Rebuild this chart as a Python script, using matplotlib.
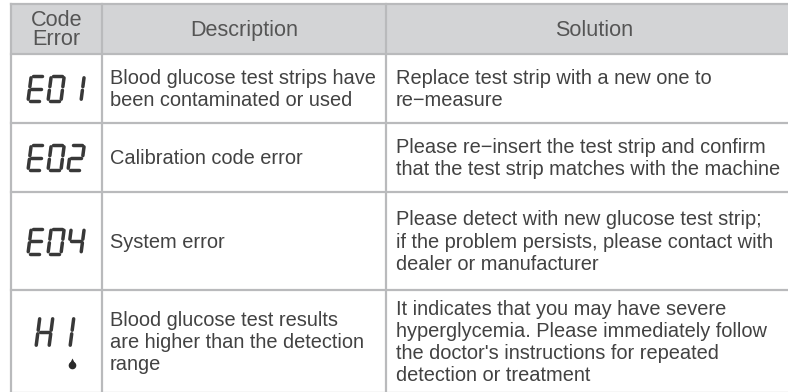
import matplotlib
matplotlib.use('Agg')
from matplotlib import pyplot as plt

plt.rcParams['font.family'] = ['Liberation Sans', 'DejaVu Sans']

# table content
headers = ['Code\nError', 'Description', 'Solution']
codes = ['E01', 'E02', 'E04', 'HI']
descriptions = [
    'Blood glucose test strips have\nbeen contaminated or used',
    'Calibration code error',
    'System error',
    'Blood glucose test results\nare higher than the detection\nrange',
]
solutions = [
    'Replace test strip with a new one to\nre\u2212measure',
    'Please re\u2212insert the test strip and confirm\nthat the test strip matches with the machine',
    'Please detect with new glucose test strip;\nif the problem persists, please contact with\ndealer or manufacturer',
    "It indicates that you may have severe\nhyperglycemia. Please immediately follow\nthe doctor's instructions for repeated\ndetection or treatment",
]

# layout (pixels)
col_edges = [11, 102, 386, 792]
row_edges = [4, 54, 123, 192, 290, 393]
grid_color = '#b9babc'
head_fill = '#d3d4d6'
text_color = '#424242'

# seven segment map
SEGS = {
    'E': 'adefg', '0': 'abcdef', '1': 'bc', '2': 'abdeg',
    '4': 'bcfg', 'H': 'bcefg', 'I': 'bc',
}


def draw_lcd(ax, text, x0, ybot, h, w=13, pitch=20, slant=0.13, gap=1.8):
    '''draw a seven segment style string, ybot is bottom of glyph'''
    ends = {
        'a': ((0, h), (w, h)), 'b': ((w, h), (w, h / 2)),
        'c': ((w, h / 2), (w, 0)), 'd': ((0, 0), (w, 0)),
        'e': ((0, h / 2), (0, 0)), 'f': ((0, h), (0, h / 2)),
        'g': ((0, h / 2), (w, h / 2)),
    }
    for i, ch in enumerate(text):
        ox = x0 + i * pitch
        for s in SEGS[ch]:
            (u1, v1), (u2, v2) = ends[s]
            du, dv = u2 - u1, v2 - v1
            ln = (du ** 2 + dv ** 2) ** 0.5
            u1, v1 = u1 + gap * du / ln, v1 + gap * dv / ln
            u2, v2 = u2 - gap * du / ln, v2 - gap * dv / ln
            xs = [ox + u1 + slant * v1, ox + u2 + slant * v2]
            ys = [ybot - v1, ybot - v2]
            ax.plot(xs, ys, color='#383838', lw=2.5, solid_capstyle='round')


fig = plt.figure(figsize=(7.88, 3.92), dpi=100)
ax = fig.add_axes([0, 0, 1, 1])
ax.set_xlim(0, 788)
ax.set_ylim(392, 0)
ax.axis('off')

# header background
ax.fill_between([col_edges[0], col_edges[-1]], row_edges[0], row_edges[1],
                color=head_fill, lw=0)

# grid
for y in row_edges:
    ax.plot([col_edges[0], col_edges[-1]], [y, y], color=grid_color, lw=1.6)
for x in col_edges:
    ax.plot([x, x], [row_edges[0], row_edges[-1]], color=grid_color, lw=1.6)

# header text
for j, h in enumerate(headers):
    cx = (col_edges[j] + col_edges[j + 1]) / 2
    if j == 2:
        cx = 594
    cy = (row_edges[0] + row_edges[1]) / 2
    ax.text(cx, cy + 1, h, ha='center', va='center', fontsize=15.6,
            color='#555555', linespacing=0.82)

# body
lcd_h = [25, 25, 25, 30]
lcd_x = [28, 28, 28, 36]
for i in range(len(codes)):
    top, bot = row_edges[i + 1], row_edges[i + 2]
    cy = (top + bot) / 2
    if i == 3:
        draw_lcd(ax, codes[i], lcd_x[i], 347, lcd_h[i], pitch=21)
        ax.plot(72.5, 364.5, 'o', color='#2a2a2a', ms=5.5, mec='none')
        ax.plot(72.5, 360.5, '^', color='#2a2a2a', ms=4.5, mec='none')
    else:
        draw_lcd(ax, codes[i], lcd_x[i], cy + lcd_h[i] / 2, lcd_h[i])
    ax.text(col_edges[1] + 8, cy + 1, descriptions[i], ha='left', va='center',
            fontsize=14.4, color=text_color, linespacing=1.22)
    ax.text(col_edges[2] + 10, cy + 1, solutions[i], ha='left', va='center',
            fontsize=14.4, color=text_color, linespacing=1.22)

fig.savefig('out.png', dpi=100)
